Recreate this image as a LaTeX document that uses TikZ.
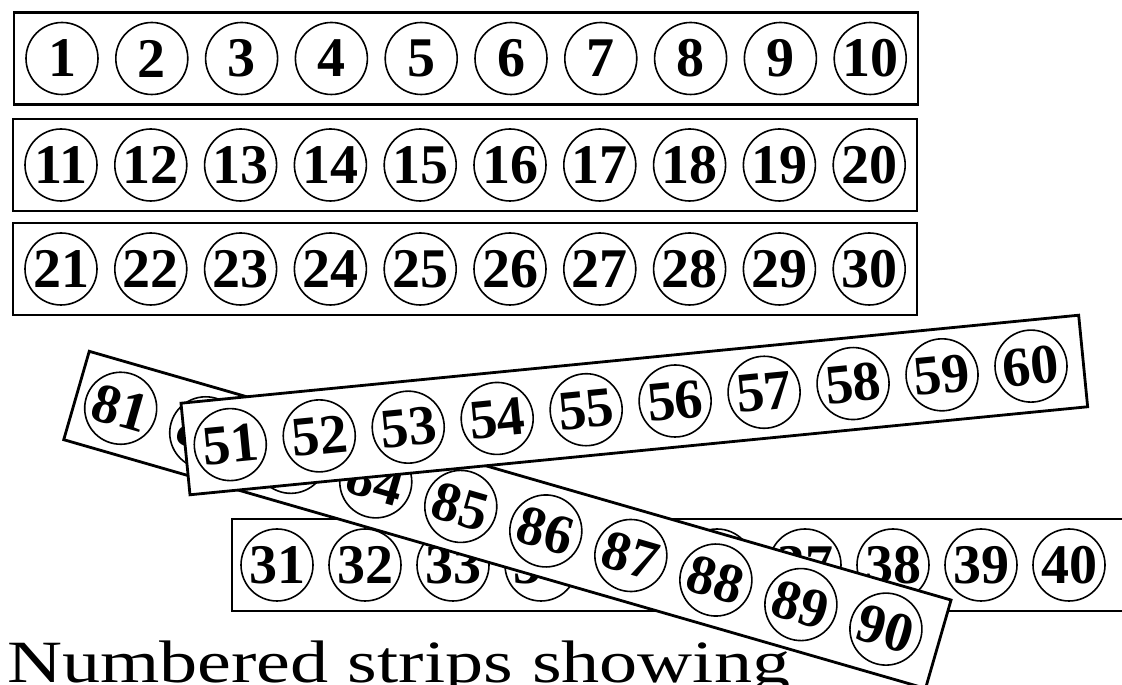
\documentclass[tikz,border=0pt]{standalone}
\usepackage{fontspec}
\setmainfont{Liberation Serif}
\usepackage{graphicx}
\usetikzlibrary{positioning}

\tikzset{
  strip/.style={draw, fill=white, line width=2.8pt, inner sep=0pt,
    minimum width=904pt, minimum height=92pt},
  ball/.style={draw, circle, fill=white, line width=1.6pt, inner sep=0pt,
    minimum size=72pt, font=\bfseries\fontsize{56}{56}\selectfont}
}

\begin{document}
\begin{tikzpicture}[x=1pt, y=1pt]
  \useasboundingbox (0,0) rectangle (1122,685);
  \clip (0,0) rectangle (1122,685);
  \def\boxw{904}
  \def\edge{48}
  \def\pitch{89.8}

  % the three straight strips
  \begin{scope}[shift={(14,626.5)}]
    \node[strip] (s1) at (0.5*\boxw,0) {};
    \foreach \n [count=\k from 0] in {1,...,10}
      \node[ball] (c\n) at ({\edge+\k*\pitch},0) {\n};
  \end{scope}
  \begin{scope}[shift={(13,520)}]
    \node[strip] (s11) at (0.5*\boxw,0) {};
    \foreach \n [count=\k from 0] in {11,...,20}
      \node[ball] (c\n) at ({\edge+\k*\pitch},0) {\n};
  \end{scope}
  \begin{scope}[shift={(13,416)}]
    \node[strip] (s21) at (0.5*\boxw,0) {};
    \foreach \n [count=\k from 0] in {21,...,30}
      \node[ball] (c\n) at ({\edge+\k*\pitch},0) {\n};
  \end{scope}

  % loose strips, bottom one first
  \begin{scope}[shift={(232,120)}]
    \node[strip] (s31) at (0.5*\boxw,0) {};
    \foreach \n [count=\k from 0] in {31,...,40}
      \node[ball] (c\n) at ({45+\k*88},0) {\n};
  \end{scope}
  \begin{scope}[shift={(76.5,289.5)}, rotate=-16.1, transform shape]
    \node[strip, minimum width=897pt] (s81) at (448.5,0) {};
    \foreach \n [count=\k from 0] in {81,...,90}
      \node[ball] (c\n) at ({46+\k*88.5},0) {\n};
  \end{scope}
  \begin{scope}[shift={(185.5,236)}, rotate=5.6, transform shape]
    \node[strip, minimum width=902pt] (s51) at (451,0) {};
    \foreach \n [count=\k from 0] in {51,...,60}
      \node[ball] (c\n) at ({45+\k*89.4},0) {\n};
  \end{scope}

  \node[font=\fontsize{60}{60}\selectfont, anchor=base west, inner sep=0pt]
    (caption) at (7,2) {\scalebox{1.27}[1]{Numbered strips showing}};
\end{tikzpicture}
\end{document}
